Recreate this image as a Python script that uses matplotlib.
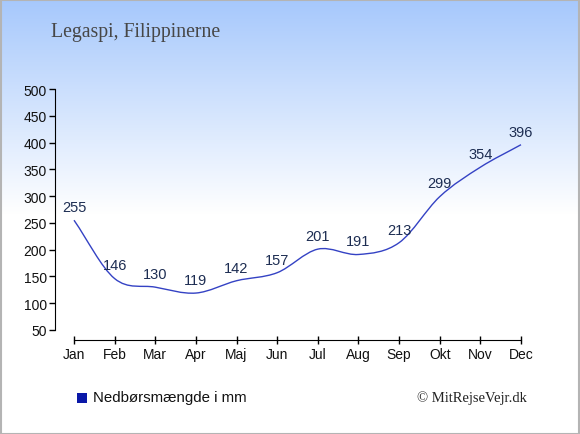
import numpy as np
import matplotlib
matplotlib.use("Agg")
import matplotlib.pyplot as plt
from matplotlib.path import Path
from matplotlib.patches import PathPatch, Rectangle

months = ["Jan", "Feb", "Mar", "Apr", "Maj", "Jun", "Jul", "Aug", "Sep", "Okt", "Nov", "Dec"]
rain = [255, 146, 130, 119, 142, 157, 201, 191, 213, 299, 354, 396]
yticks = [50, 100, 150, 200, 250, 300, 350, 400, 450, 500]

W, H = 580, 435
fig = plt.figure(figsize=(W / 100, H / 100), dpi=100)

# background gradient (blue at top fading to white)
bg = fig.add_axes([0, 0, 1, 1], zorder=-10)
n = 435
frac = np.clip(np.arange(n) / 215.0, 0, 1)[:, None]
top = np.array([166, 200, 252]) / 255.0
grad = top[None, :] * (1 - frac[..., None]) + np.ones(3)[None, None, :] * frac[..., None]
grad = np.repeat(grad, 2, axis=1)
bg.imshow(grad, aspect="auto", extent=[0, 1, 0, 1])
bg.set_axis_off()
bg.add_patch(Rectangle((0.001, 0.001), 0.998, 0.997, transform=bg.transAxes,
                       fill=False, edgecolor="#b4b4b4", lw=1.5))

# main axes
x0, x1, yb, yt = 55, 530, 341, 88
ax = fig.add_axes([x0 / W, (H - yb) / H, (x1 - x0) / W, (yb - yt) / H])
ax.patch.set_alpha(0)
step = (521 - 74) / 11
ax.set_xlim(-(74 - x0) / step, 11 + (x1 - 521) / step)
pxu = (331 - 90) / 450
ax.set_ylim(50 - 10 / pxu, 500 + 2 / pxu)

x = np.arange(len(rain))
y = np.array(rain, dtype=float)

# smooth curve through the points (cubic bezier segments)
m = np.zeros_like(y)
m[1:-1] = (y[2:] - y[:-2]) / 2
m[0] = y[1] - y[0]
m[-1] = y[-1] - y[-2]
verts = [(x[0], y[0])]
codes = [Path.MOVETO]
for i in range(len(x) - 1):
    verts += [(x[i] + 1 / 3, y[i] + m[i] / 3),
              (x[i + 1] - 1 / 3, y[i + 1] - m[i + 1] / 3),
              (x[i + 1], y[i + 1])]
    codes += [Path.CURVE4] * 3
ax.add_patch(PathPatch(Path(verts, codes), fill=False, edgecolor="#3442c4", lw=1.0))

for xi, v in zip(x, rain):
    ax.annotate(str(v), (xi, v), xytext=(0, 9.5), textcoords="offset points",
                ha="center", va="center", fontsize=10.5, color="#1d2d52",
                family="Liberation Sans")

ax.spines["top"].set_visible(False)
ax.spines["right"].set_visible(False)
ax.spines["left"].set_bounds(50, 500)
ax.spines["bottom"].set_bounds(0, 11)
ax.set_xticks(x)
ax.set_xticklabels(months)
ax.set_yticks(yticks)
ax.tick_params(axis="y", direction="out", length=4, width=1, labelsize=10, pad=2)
ax.tick_params(axis="x", direction="inout", length=6, width=1, labelsize=10, pad=2)
for lab in ax.get_xticklabels() + ax.get_yticklabels():
    lab.set_family("Liberation Sans")
    lab.set_color("#111111")

fig.text(51 / W, 1 - 32 / H, "Legaspi, Filippinerne", fontsize=14.2, color="#474747",
         family="Liberation Serif", va="center", ha="left")

fig.patches.append(Rectangle((77 / W, 1 - 404 / H), 10 / W, 10 / H, transform=fig.transFigure,
                             facecolor="#0a18a8", edgecolor="none"))
fig.text(93 / W, 1 - 398 / H, "Nedbørsmængde i mm", fontsize=10.8, color="#111111",
         family="Liberation Sans", va="center", ha="left")
fig.text(527 / W, 1 - 398 / H, "© MitRejseVejr.dk", fontsize=10.5, color="#222222",
         family="Liberation Serif", va="center", ha="right")

fig.savefig("out.png", dpi=100)
